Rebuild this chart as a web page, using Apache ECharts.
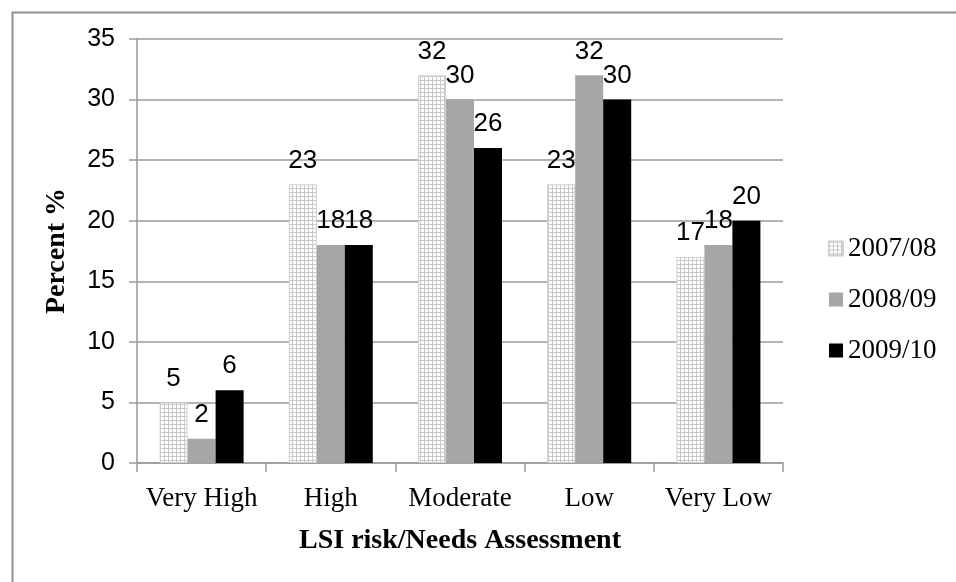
<!DOCTYPE html>
<html>
<head>
<meta charset="utf-8">
<script src="https://cdn.jsdelivr.net/npm/echarts@6/dist/echarts.min.js"></script>
<style>
  html, body { margin: 0; padding: 0; background: #fff; }
  #chart { width: 956px; height: 582px; }
</style>
</head>
<body>
<div id="chart"></div>
<script>
// Risk level categories and the share of assessments in each, by year
const categories = ['Very High', 'High', 'Moderate', 'Low', 'Very Low'];
const seriesNames = ['2007/08', '2008/09', '2009/10'];
const values2007 = [5, 23, 32, 23, 17];
const values2008 = [2, 18, 30, 32, 18];
const values2009 = [6, 18, 26, 30, 20];
const yTicks = [0, 5, 10, 15, 20, 25, 30, 35];

const SERIF = 'Liberation Serif, Times New Roman, serif';
const SANS = 'Liberation Sans, Arial, sans-serif';

// Small square-grid tile used as the fill of the first series
function gridPattern() {
  const c = document.createElement('canvas');
  c.width = 4; c.height = 4;
  const g = c.getContext('2d');
  g.fillStyle = '#ffffff';
  g.fillRect(0, 0, 4, 4);
  g.fillStyle = '#c8c8c8';
  g.fillRect(0, 0, 4, 1);
  g.fillRect(0, 0, 1, 4);
  return c;
}
const hatch = { image: gridPattern(), repeat: 'repeat' };

const chart = echarts.init(document.getElementById('chart'), null, { renderer: 'canvas' });

const labelStyle = {
  show: true,
  position: 'top',
  distance: 11,
  color: '#000',
  fontFamily: SANS,
  fontSize: 26
};

chart.setOption({
  backgroundColor: '#fff',
  animation: false,
  graphic: [{
    type: 'rect',
    left: 10, top: 10,
    shape: { width: 1000, height: 1000 },
    style: { fill: 'none', stroke: '#8f8f8f', lineWidth: 2 },
    silent: true
  }],
  grid: { left: 137, right: 173, top: 39, bottom: 119 },
  legend: {
    orient: 'vertical',
    left: 823,
    top: 230,
    itemGap: 24,
    itemWidth: 14,
    itemHeight: 14,
    icon: 'rect',
    data: seriesNames,
    textStyle: {
      fontFamily: SERIF,
      fontSize: 27,
      color: '#000'
    }
  },
  xAxis: {
    type: 'category',
    data: categories,
    name: 'LSI risk/Needs Assessment',
    nameLocation: 'middle',
    nameGap: 64,
    nameTextStyle: {
      fontFamily: SERIF,
      fontWeight: 'bold',
      fontSize: 28,
      color: '#000'
    },
    axisLine: { lineStyle: { color: '#9a9a9a', width: 1.5 } },
    axisTick: { show: true, length: 9, lineStyle: { color: '#9a9a9a', width: 1.5 } },
    axisLabel: {
      interval: 0,
      hideOverlap: false,
      margin: 22,
      fontFamily: SERIF,
      fontSize: 27,
      color: '#000'
    }
  },
  yAxis: {
    type: 'value',
    min: yTicks[0],
    max: yTicks[yTicks.length - 1],
    interval: 5,
    name: 'Percent %',
    nameLocation: 'middle',
    nameGap: 66,
    nameRotate: 90,
    nameTextStyle: {
      fontFamily: SERIF,
      fontWeight: 'bold',
      fontSize: 28,
      color: '#000'
    },
    axisLine: { show: true, lineStyle: { color: '#9a9a9a', width: 1.5 } },
    axisTick: { show: true, length: 8, lineStyle: { color: '#9a9a9a', width: 1.5 } },
    splitLine: { lineStyle: { color: '#9a9a9a', width: 1.5 } },
    axisLabel: {
      margin: 22,
      fontFamily: SANS,
      fontSize: 25,
      color: '#000'
    }
  },
  series: [
    {
      name: seriesNames[0],
      type: 'bar',
      data: values2007,
      barWidth: 28,
      barGap: '0%',
      itemStyle: { color: hatch, borderColor: '#d0d0d0', borderWidth: 1 },
      label: labelStyle
    },
    {
      name: seriesNames[1],
      type: 'bar',
      data: values2008,
      barWidth: 28,
      barGap: '0%',
      itemStyle: { color: '#a6a6a6' },
      label: labelStyle
    },
    {
      name: seriesNames[2],
      type: 'bar',
      data: values2009,
      barWidth: 28,
      barGap: '0%',
      itemStyle: { color: '#000000' },
      label: labelStyle
    }
  ]
});
</script>
</body>
</html>
